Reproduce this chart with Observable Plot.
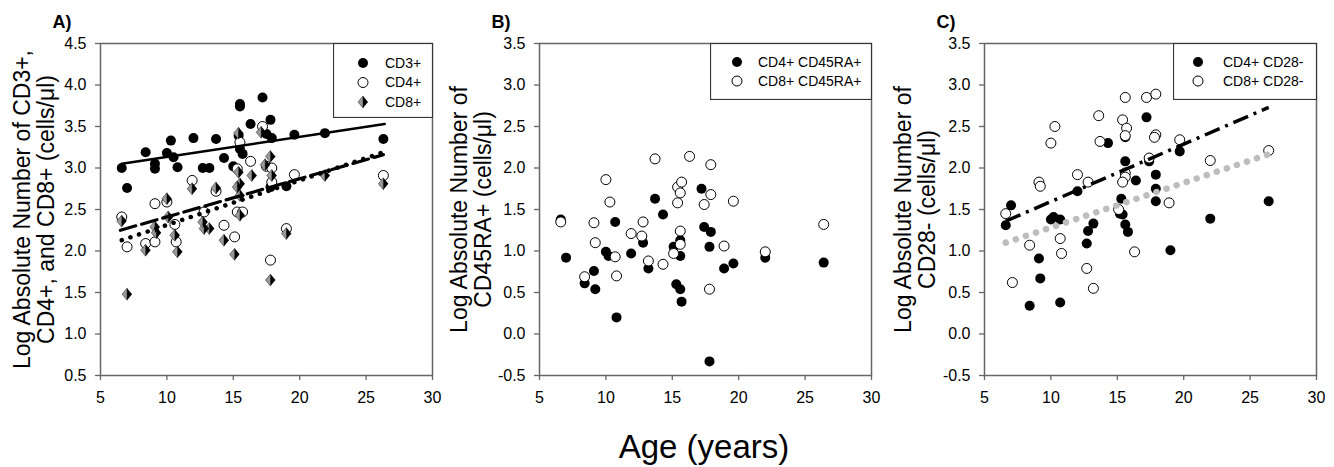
<!DOCTYPE html>
<html><head><meta charset="utf-8">
<script src="https://cdn.jsdelivr.net/npm/d3@7"></script>
<script src="https://cdn.jsdelivr.net/npm/@observablehq/plot@0.6"></script>
<style>
html,body{margin:0;padding:0;background:#fff;}
#root{position:relative;width:1334px;height:467px;font-family:"Liberation Sans",Arial,sans-serif;overflow:hidden;}
.panel{position:absolute;top:0;}
.legend{position:absolute;}
#xlabel{position:absolute;left:504px;width:400px;top:430px;text-align:center;font-size:33px;line-height:1;}
</style>
</head><body>
<div id="root"></div>
<script>
// ---------- data (age in years, log absolute number) ----------
const xTicks = [5, 10, 15, 20, 25, 30];
const yTicksA = [0.5, 1.0, 1.5, 2.0, 2.5, 3.0, 3.5, 4.0, 4.5];
const yTicksBC = [-0.5, 0.0, 0.5, 1.0, 1.5, 2.0, 2.5, 3.0, 3.5];

const cd3 = [[6.6,3.00],[7.0,2.76],[8.4,3.19],[9.1,3.05],[9.1,2.99],[10.0,3.18],[10.3,3.33],[10.5,3.13],[10.8,3.01],[12.0,3.36],[12.7,3.00],[13.2,3.00],[13.7,3.35],[14.3,3.12],[15.0,3.02],[15.4,3.39],[15.5,3.77],[15.5,3.74],[15.5,3.23],[15.7,3.17],[16.3,3.53],[17.2,3.85],[17.5,3.41],[17.8,3.58],[17.9,3.36],[19.6,3.40],[21.9,3.42],[26.3,3.35],[17.8,2.77],[19.0,2.78]];
const cd4 = [[17.2,3.50],[15.5,3.31],[16.3,3.08],[11.9,2.85],[13.7,2.72],[15.3,2.99],[17.5,3.02],[17.9,3.00],[19.6,2.92],[26.3,2.91],[6.6,2.41],[7.0,2.05],[8.4,2.09],[9.1,2.57],[9.1,2.11],[10.0,2.59],[10.6,2.32],[10.7,2.11],[12.8,2.47],[14.3,2.31],[15.1,2.17],[15.3,2.47],[15.7,2.47],[17.8,1.89],[19.0,2.27],[17.9,2.83]];
const cd8 = [[15.4,3.42],[17.1,3.43],[17.8,3.14],[17.4,3.04],[15.4,2.95],[16.4,2.91],[17.9,2.91],[15.5,2.81],[11.9,2.75],[13.7,2.76],[21.9,2.91],[26.3,2.81],[10.0,2.63],[6.6,2.36],[7.0,1.48],[8.4,2.01],[9.1,2.29],[9.2,2.22],[10.1,2.41],[10.6,2.19],[10.8,1.99],[12.7,2.35],[12.8,2.27],[13.2,2.27],[14.3,2.13],[15.1,1.96],[15.3,2.77],[15.5,2.43],[15.5,2.67],[17.8,1.65],[19.0,2.21]];
const fitCd3 = [[6.6,3.05],[26.4,3.53]];
const fitCd4 = [[6.5,2.25],[26.3,3.16]];
const fitCd8 = [[6.6,2.13],[26.3,3.19]];

const cd4ra = [[6.6,1.38],[17.2,1.75],[13.7,1.63],[14.3,1.44],[10.7,1.35],[17.4,1.29],[17.9,1.23],[15.6,1.13],[12.8,1.10],[15.1,1.05],[17.8,1.05],[10.0,0.99],[10.2,0.94],[11.9,0.97],[15.6,0.94],[7.0,0.92],[22.0,0.92],[26.4,0.86],[19.6,0.85],[18.9,0.79],[13.2,0.79],[9.1,0.76],[8.4,0.61],[9.2,0.54],[15.3,0.60],[15.6,0.54],[15.7,0.39],[10.8,0.20],[17.8,-0.33]];
const cd8ra = [[13.7,2.11],[16.3,2.14],[17.9,2.04],[10.0,1.86],[15.4,1.77],[15.7,1.83],[15.6,1.70],[17.9,1.68],[10.3,1.59],[17.4,1.56],[15.4,1.58],[19.6,1.60],[6.6,1.35],[9.1,1.34],[12.8,1.35],[11.9,1.21],[12.7,1.18],[15.6,1.24],[15.6,1.08],[9.2,1.10],[10.7,0.93],[13.2,0.88],[14.3,0.84],[15.1,0.97],[18.9,1.06],[22.0,0.99],[26.4,1.32],[8.4,0.69],[10.8,0.70],[17.8,0.54]];

const cd4cd28 = [[17.2,2.61],[14.3,2.30],[15.6,2.37],[19.7,2.20],[15.6,2.08],[17.4,2.08],[17.9,1.92],[16.4,1.85],[12.0,1.72],[17.9,1.75],[15.3,1.63],[17.9,1.60],[26.4,1.60],[7.0,1.55],[15.2,1.45],[15.4,1.44],[10.2,1.41],[10.0,1.38],[10.7,1.38],[22.0,1.39],[6.6,1.31],[13.2,1.33],[15.6,1.32],[12.8,1.24],[15.8,1.23],[12.7,1.09],[19.0,1.01],[9.1,0.91],[9.2,0.67],[10.7,0.38],[8.4,0.34]];
const cd8cd28 = [[15.6,2.85],[17.2,2.85],[17.9,2.89],[13.6,2.63],[15.4,2.58],[15.7,2.48],[15.6,2.39],[17.9,2.40],[17.8,2.37],[10.3,2.50],[10.0,2.30],[13.7,2.32],[19.7,2.34],[26.4,2.21],[22.0,2.09],[17.4,2.12],[12.0,1.92],[15.6,1.94],[15.6,1.89],[15.4,1.83],[12.8,1.83],[9.1,1.83],[9.2,1.78],[18.9,1.58],[6.6,1.45],[15.1,1.50],[10.7,1.15],[8.4,1.07],[10.8,0.97],[16.3,0.99],[12.7,0.79],[7.1,0.62],[13.2,0.55]];
const fitCd4cd28 = [[6.6,1.36],[26.4,2.73]];
const fitCd8cd28 = [[6.6,1.10],[26.3,2.16]];

const titles = {
  A: "Log Absolute Number of CD3+,\nCD4+, and CD8+ (cells/\u03bcl)",
  B: "Log Absolute Number of\nCD45RA+ (cells/\u03bcl)",
  C: "Log Absolute Number of\nCD28- (cells/\u03bcl)"
};
const legendA = ["CD3+", "CD4+", "CD8+"];
const legendB = ["CD4+ CD45RA+", "CD8+ CD45RA+"];
const legendC = ["CD4+ CD28-", "CD8+ CD28-"];

// ---------- helpers ----------
const FONT = '"Liberation Sans", Arial, sans-serif';
const halfLeft = {draw(ctx, size){ const w = Math.sqrt(size/Math.PI), h = w*1.2; ctx.moveTo(0,-h); ctx.lineTo(-w,0); ctx.lineTo(0,h); ctx.closePath(); }};
const halfRight = {draw(ctx, size){ const w = Math.sqrt(size/Math.PI), h = w*1.2; ctx.moveTo(0,-h); ctx.lineTo(w,0); ctx.lineTo(0,h); ctx.closePath(); }};

function panel({left, width, mLeft, mRight, yDomain, yTicks, title, titleDx, letter, marks}) {
  const chart = Plot.plot({
    width, height: 410,
    marginLeft: mLeft, marginRight: mRight, marginTop: 43, marginBottom: 35,
    x: {domain: [5, 30]},
    y: {domain: yDomain},
    style: {fontFamily: FONT, fontSize: "16px", color: "#000", background: "transparent", overflow: "visible"},
    marks: [
      Plot.frame({stroke: "#666", strokeWidth: 1.5}),
      Plot.axisX({ticks: xTicks, tickSize: 5, tickPadding: 11, fontSize: 16, stroke: "#666", strokeWidth: 1.3, label: null, tickFormat: d => String(d)}),
      Plot.axisY({ticks: yTicks, tickSize: 5, tickPadding: 9, fontSize: 16, stroke: "#666", strokeWidth: 1.3, label: null, tickFormat: d => d.toFixed(1)}),
      ...marks,
      Plot.text([title], {frameAnchor: "left", dx: titleDx, rotate: -90, textAnchor: "middle", lineAnchor: "middle", fontSize: 23, lineHeight: 1.05, fill: "#000"}),
      Plot.text([letter], {frameAnchor: "top-left", dx: -48, dy: -21, textAnchor: "start", lineAnchor: "middle", fontSize: 18, fontWeight: "bold"})
    ]
  });
  const div = document.createElement("div");
  div.className = "panel";
  div.style.left = left + "px";
  div.appendChild(chart);
  document.getElementById("root").appendChild(div);
}

function legend({left, top, width, height, items, symbols, markerX, textX, firstY, step}) {
  const svg = d3.select("#root").append("svg").attr("class", "legend")
    .style("left", left + "px").style("top", top + "px")
    .attr("width", width).attr("height", height);
  svg.append("rect").attr("x", 0.5).attr("y", 0.5).attr("width", width - 1).attr("height", height - 1)
    .attr("fill", "#fff").attr("stroke", "#333").attr("stroke-width", 1.2);
  items.forEach((label, i) => {
    const y = firstY + i * step;
    const g = svg.append("g").attr("transform", `translate(${markerX},${y})`);
    symbols[i](g);
    svg.append("text").attr("x", textX).attr("y", y).attr("dy", "0.35em")
      .attr("font-family", FONT).attr("font-size", 14).text(label);
  });
}
const symFilled = g => g.append("circle").attr("r", 5).attr("fill", "#000");
const symOpen = g => g.append("circle").attr("r", 5).attr("fill", "#fff").attr("stroke", "#000").attr("stroke-width", 1);
const symDiamond = g => {
  g.append("path").attr("d", "M0,-6L-5,0L0,6Z").attr("fill", "#999").attr("stroke", "#333").attr("stroke-width", 0.6);
  g.append("path").attr("d", "M0,-6L5,0L0,6Z").attr("fill", "#000");
};

const filled = data => Plot.dot(data, {x: d => d[0], y: d => d[1], r: 5, fill: "#000", stroke: "none"});
const open = data => Plot.dot(data, {x: d => d[0], y: d => d[1], r: 5, fill: "#fff", stroke: "#000", strokeWidth: 1});
const fitLine = (data, opts) => Plot.line(data, {x: d => d[0], y: d => d[1], ...opts});

// Panel A
panel({left: 0, width: 440, mLeft: 100, mRight: 8, yDomain: [0.5, 4.5], yTicks: yTicksA,
  title: titles.A, titleDx: -66, letter: "A)",
  marks: [
    filled(cd3),
    open(cd4),
    Plot.dot(cd8, {x: d => d[0], y: d => d[1], r: 5, symbol: halfLeft, fill: "#999", stroke: "#333", strokeWidth: 0.6}),
    Plot.dot(cd8, {x: d => d[0], y: d => d[1], r: 5, symbol: halfRight, fill: "#000", stroke: "none"}),
    fitLine(fitCd3, {stroke: "#000", strokeWidth: 2.5}),
    fitLine(fitCd4, {stroke: "#000", strokeWidth: 3.2, strokeDasharray: "16 6"}),
    fitLine(fitCd8, {stroke: "#000", strokeWidth: 4.5, strokeDasharray: "0.1 9", strokeLinecap: "round"})
  ]});

// Panel B
panel({left: 440, width: 440, mLeft: 99, mRight: 9, yDomain: [-0.5, 3.5], yTicks: yTicksBC,
  title: titles.B, titleDx: -68, letter: "B)",
  marks: [filled(cd4ra), open(cd8ra)]});

// Panel C
panel({left: 880, width: 454, mLeft: 104, mRight: 18, yDomain: [-0.5, 3.5], yTicks: yTicksBC,
  title: titles.C, titleDx: -69, letter: "C)",
  marks: [
    filled(cd4cd28), open(cd8cd28),
    fitLine(fitCd4cd28, {stroke: "#000", strokeWidth: 3.5, strokeDasharray: "16 6 3 6", strokeLinecap: "butt"}),
    fitLine(fitCd8cd28, {stroke: "#bdbdbd", strokeWidth: 6.5, strokeDasharray: "0.1 10.5", strokeLinecap: "round"})
  ]});

legend({left: 333, top: 43, width: 100, height: 75, items: legendA, symbols: [symFilled, symOpen, symDiamond], markerX: 30, textX: 52, firstY: 20, step: 19.5});
legend({left: 710, top: 43, width: 162, height: 57, items: legendB, symbols: [symFilled, symOpen], markerX: 27, textX: 48, firstY: 19, step: 19});
legend({left: 1173, top: 43, width: 144, height: 57, items: legendC, symbols: [symFilled, symOpen], markerX: 25, textX: 50, firstY: 19, step: 19});

const xl = document.createElement("div");
xl.id = "xlabel";
xl.textContent = "Age (years)";
document.getElementById("root").appendChild(xl);
</script>
</body></html>
